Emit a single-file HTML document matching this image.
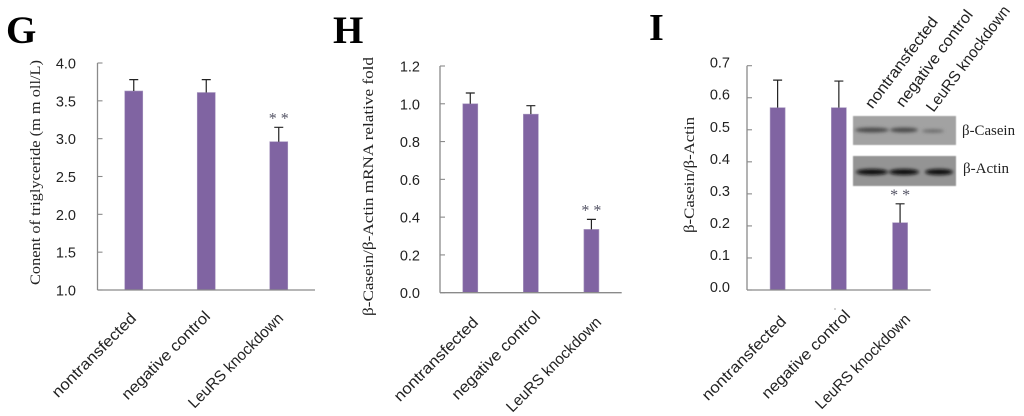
<!DOCTYPE html>
<html lang="en">
<head>
<meta charset="utf-8">
<title>Triglyceride, beta-casein mRNA and protein bar charts</title>
<style>
html,body{margin:0;padding:0;background:#fff;width:1024px;height:416px;overflow:hidden}
svg{display:block}
</style>
</head>
<body>
<svg id="figure" xmlns="http://www.w3.org/2000/svg" width="1024" height="416" viewBox="0 0 1024 416">
  <defs>
    <filter id="bandBlur" x="-30%" y="-150%" width="160%" height="400%"><feGaussianBlur stdDeviation="1.5"/></filter>
    <filter id="softBlur" x="-5%" y="-5%" width="110%" height="110%"><feGaussianBlur stdDeviation="0.6"/></filter>
  </defs>

  <g>
    <rect x="853" y="116" width="103" height="29" fill="#a2a2a2" filter="url(#softBlur)"/>
    <g filter="url(#bandBlur)" fill="#484848">
      <ellipse cx="872" cy="130" rx="17" ry="2.4"/>
      <ellipse cx="904" cy="130" rx="14" ry="2.4"/>
      <ellipse cx="933" cy="131" rx="11" ry="1.6" fill="#686868"/>
    </g>
    <rect x="853" y="156" width="103" height="30" fill="#949494" filter="url(#softBlur)"/>
    <g filter="url(#bandBlur)" fill="#0c0c0c">
      <ellipse cx="872" cy="172" rx="16" ry="3"/>
      <ellipse cx="904" cy="172" rx="15" ry="3"/>
      <ellipse cx="939" cy="172" rx="14" ry="3"/>
    </g>
    <text x="962" y="135" font-family="'Liberation Serif',serif" font-size="15" textLength="53" lengthAdjust="spacingAndGlyphs" fill="#222">β-Casein</text>
    <text x="963" y="173" font-family="'Liberation Serif',serif" font-size="15" textLength="46" lengthAdjust="spacingAndGlyphs" fill="#222">β-Actin</text>
    <text transform="translate(935,19) rotate(-53)" text-anchor="end" dominant-baseline="central" font-family="'Liberation Sans',sans-serif" font-size="15.5" textLength="110" lengthAdjust="spacingAndGlyphs" fill="#222">nontransfected</text>
    <text transform="translate(970,12) rotate(-53)" text-anchor="end" dominant-baseline="central" font-family="'Liberation Sans',sans-serif" font-size="15.5" textLength="117" lengthAdjust="spacingAndGlyphs" fill="#222">negative control</text>
    <text transform="translate(1007,8) rotate(-53)" text-anchor="end" dominant-baseline="central" font-family="'Liberation Sans',sans-serif" font-size="15.5" textLength="128" lengthAdjust="spacingAndGlyphs" fill="#222">LeuRS knockdown</text>
  </g>

  <text x="6" y="43" font-family="'Liberation Serif',serif" font-weight="bold" font-size="39" fill="#000">G</text>
  <text x="333" y="43" font-family="'Liberation Serif',serif" font-weight="bold" font-size="39" fill="#000">H</text>
  <text x="649" y="40" font-family="'Liberation Serif',serif" font-weight="bold" font-size="38" fill="#000">I</text>

  <rect x="834.5" y="308.5" width="1" height="1" fill="#555"/>
</svg>

<script>
var categories = ['nontransfected', 'negative control', 'LeuRS knockdown'];

var gTicks = ['1.0', '1.5', '2.0', '2.5', '3.0', '3.5', '4.0'];
var gValues = [3.63, 3.61, 2.96];
var gErrors = [0.15, 0.17, 0.19];
var gSignificance = ['', '', '* *'];

var hTicks = ['0.0', '0.2', '0.4', '0.6', '0.8', '1.0', '1.2'];
var hValues = [1.0, 0.945, 0.335];
var hErrors = [0.057, 0.045, 0.053];
var hSignificance = ['', '', '* *'];

var iTicks = ['0.0', '0.1', '0.2', '0.3', '0.4', '0.5', '0.6', '0.7'];
var iValues = [0.569, 0.569, 0.21];
var iErrors = [0.086, 0.083, 0.059];
var iSignificance = ['', '', '* *'];

var SVG_NS = 'http://www.w3.org/2000/svg';
var svg = document.getElementById('figure');

function make(parent, tag, attrs, text) {
  var el = document.createElementNS(SVG_NS, tag);
  for (var k in attrs) { el.setAttribute(k, attrs[k]); }
  if (text !== undefined) { el.textContent = text; }
  parent.appendChild(el);
  return el;
}

function drawPanel(cfg) {
  var domainMin = parseFloat(cfg.ticks[0]);
  var domainMax = parseFloat(cfg.ticks[cfg.ticks.length - 1]);
  function yScale(v) {
    return cfg.bottom - (v - domainMin) / (domainMax - domainMin) * (cfg.bottom - cfg.top);
  }
  var band = (cfg.right - cfg.left) / cfg.values.length;
  function xScale(i) {
    return cfg.left + band * (i + 0.5);
  }

  var g = make(svg, 'g', {});
  
  

  var yAxis = make(g, 'line', {x1: cfg.left, x2: cfg.left, y1: cfg.top, y2: cfg.bottom, stroke: '#8a8a8a', 'stroke-width': 1.3});
  
  

  cfg.ticks.forEach(function (label) {
    var y = yScale(parseFloat(label));
    var tick = make(g, 'line', {x1: cfg.left, x2: cfg.left + 5, y1: y, y2: y, stroke: '#8a8a8a', 'stroke-width': 1.1});
    
    
    var tickLabel = make(g, 'text', {
      x: cfg.labelRight, y: y + cfg.labelDy + 5,
      'text-anchor': 'end', 'font-family': "'Liberation Sans',sans-serif",
      'font-size': 14.5, fill: '#222'
    }, label);
    
    
  });

  cfg.values.forEach(function (value, i) {
    var cx = xScale(i);
    var yTop = yScale(value);
    var bar = make(g, 'rect', {
      x: cx - cfg.barWidth / 2, y: yTop, width: cfg.barWidth, height: cfg.bottom - yTop,
      fill: '#8064a2', stroke: '#a898bf', 'stroke-width': 0.6
    });
    
    

    var errTop = yScale(value + cfg.errors[i]);
    var err = make(g, 'path', {
      d: 'M' + cx + ' ' + yTop + 'V' + errTop + 'M' + (cx - 4.5) + ' ' + errTop + 'H' + (cx + 4.5),
      stroke: '#222', 'stroke-width': 1.2, fill: 'none'
    });
    
    

    if (cfg.significance[i]) {
      var star = make(g, 'text', {
        x: cx, y: errTop - 4,
        'text-anchor': 'middle', 'font-family': "'Liberation Serif',serif",
        'font-size': 16, fill: '#556'
      }, cfg.significance[i]);
      
      
    }

    var end = cfg.labelEnds[i];
    var catLabel = make(g, 'text', {
      transform: 'translate(' + end.x + ',' + end.y + ') rotate(-45)',
      'text-anchor': 'end', 'dominant-baseline': 'central',
      'font-family': "'Liberation Sans',sans-serif", 'font-size': 15.5,
      textLength: end.len, lengthAdjust: 'spacingAndGlyphs', fill: '#222'
    }, categories[i]);
    
    
  });

  var xAxis = make(g, 'line', {x1: cfg.left, x2: cfg.right, y1: cfg.bottom, y2: cfg.bottom, stroke: '#8a8a8a', 'stroke-width': 1.3});
  
  

  var title = make(g, 'text', {
    transform: 'translate(' + cfg.titleX + ',' + cfg.titleBottom + ') rotate(-90)',
    'dominant-baseline': 'central', 'font-family': "'Liberation Serif',serif",
    'font-size': 14.5, textLength: cfg.titleLength, lengthAdjust: 'spacingAndGlyphs', fill: '#222'
  }, cfg.title);
  
  
}

drawPanel({
  id: 'g', ticks: gTicks, values: gValues, errors: gErrors, significance: gSignificance,
  left: 97.5, right: 315, top: 63, bottom: 290, barWidth: 18, labelRight: 76, labelDy: 0.5,
  title: 'Conent of triglyceride (m m oll/L)', titleX: 36, titleBottom: 285, titleLength: 225,
  labelEnds: [{x: 134, y: 316, len: 112}, {x: 208, y: 314, len: 118}, {x: 281, y: 316, len: 127}]
});

drawPanel({
  id: 'h', ticks: hTicks, values: hValues, errors: hErrors, significance: hSignificance,
  left: 440, right: 621.7, top: 66, bottom: 292.7, barWidth: 15, labelRight: 420, labelDy: 0.5,
  title: 'β-Casein/β-Actin mRNA relative fold', titleX: 369, titleBottom: 316, titleLength: 259,
  labelEnds: [{x: 476, y: 320, len: 112}, {x: 538, y: 314, len: 118}, {x: 599, y: 320, len: 127}]
});

drawPanel({
  id: 'i', ticks: iTicks, values: iValues, errors: iErrors, significance: iSignificance,
  left: 747, right: 930.7, top: 65.7, bottom: 290, barWidth: 15, labelRight: 730, labelDy: -3,
  title: 'β-Casein/β-Actin', titleX: 690, titleBottom: 233, titleLength: 116,
  labelEnds: [{x: 784, y: 319, len: 112}, {x: 848, y: 313, len: 118}, {x: 908, y: 317, len: 127}]
});
</script>
</body>
</html>
